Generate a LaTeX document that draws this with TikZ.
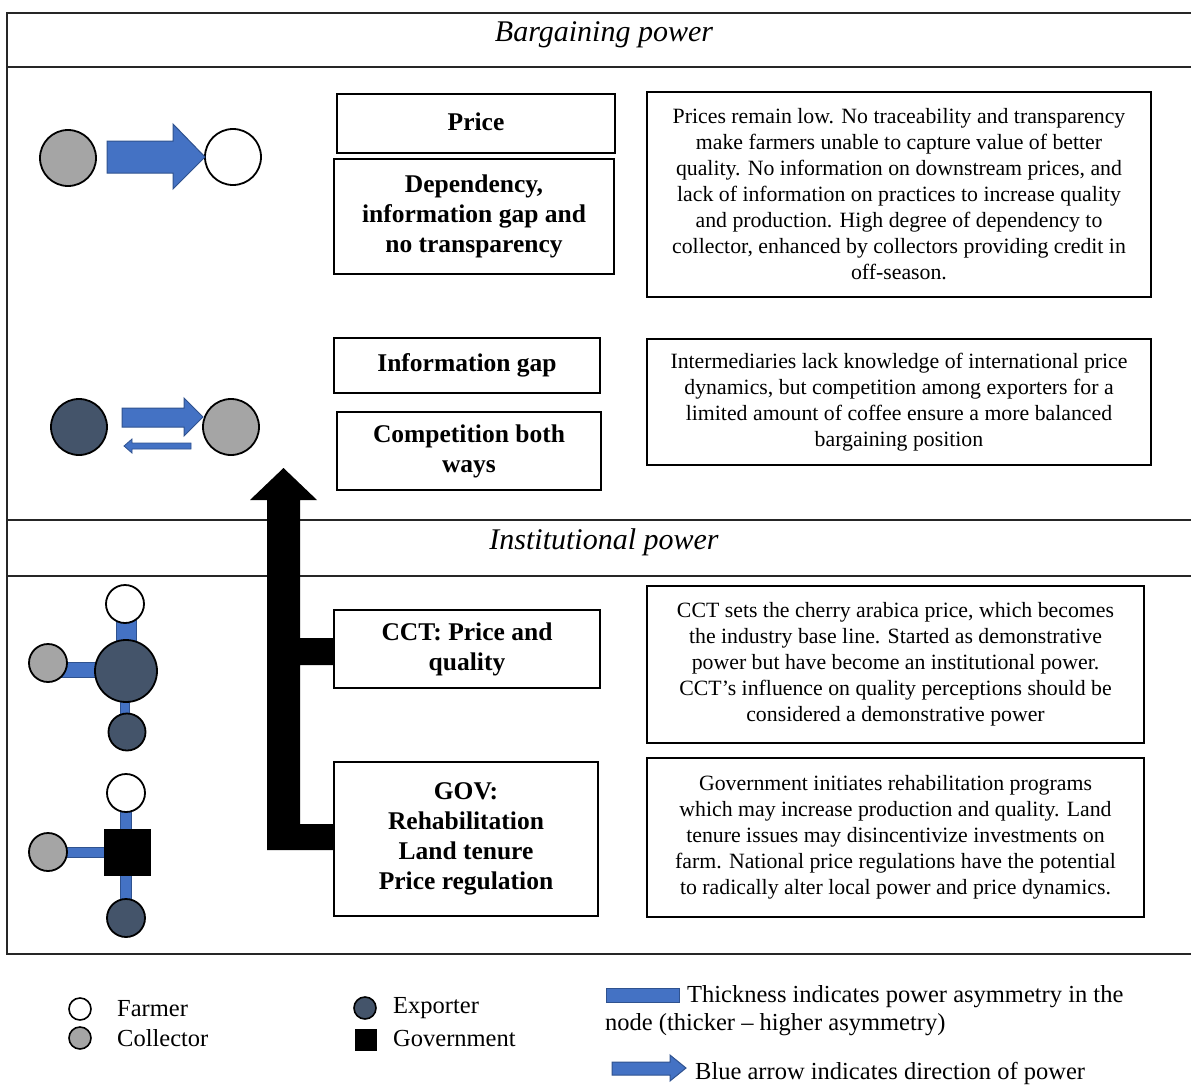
\documentclass[tikz,border=0pt]{standalone}
\usepackage{fontspec}
\setmainfont{Liberation Serif}
\usetikzlibrary{backgrounds}
\definecolor{pblue}{HTML}{4472C4}
\definecolor{pblueedge}{HTML}{2F528F}
\definecolor{colgray}{HTML}{A5A5A5}
\definecolor{expdark}{HTML}{44546A}
\tikzset{
  actor/.style={circle, draw=black, line width=1.8, inner sep=0pt},
  farmer/.style={actor, fill=white},
  collector/.style={actor, fill=colgray},
  exporter/.style={actor, fill=expdark},
  govsq/.style={rectangle, fill=black, inner sep=0pt},
  labelbox/.style={draw=black, line width=1.2, align=center, inner sep=0pt,
    font=\fontsize{25.5}{30}\selectfont\bfseries},
  descbox/.style={draw=black, line width=1.2, align=center, inner sep=0pt,
    font=\fontsize{21.8}{26}\selectfont},
  heading/.style={font=\fontsize{30}{32}\selectfont\itshape},
  link/.style={draw=pblueedge, line width=1, double=pblue, double distance=#1-2},
  legendtxt/.style={anchor=west, inner sep=0pt, font=\fontsize{24.5}{28}\selectfont},
  blockarrow/.style={fill=pblue, draw=pblueedge, line width=1},
}
\begin{document}
\begin{tikzpicture}[x=1pt,y=-1pt]
\useasboundingbox (0,0) rectangle (1191,1084);

% frame and section rules
\draw[line width=1.6, draw=black!85] (1191,13) -- (7,13) -- (7,954) -- (1191,954);
\draw[line width=1.6, draw=black!85] (7,67) -- (1191,67);
\draw[line width=1.6, draw=black!85] (7,520) -- (1191,520);
\draw[line width=1.6, draw=black!85] (7,576) -- (1191,576);

\node[heading] (hbarg) at (604,35) {Bargaining power};
\node[heading] (hinst) at (604,542) {Institutional power};

% ---- bargaining power: collector -> farmer
\node[collector, minimum size=56] (col1) at (68,158) {};
\node[farmer, minimum size=56] (far1) at (233,157) {};
\fill[blockarrow] (107,141) -- (173,141) -- (173,124) -- (205,157) -- (173,189) -- (173,173) -- (107,173) -- cycle;

% ---- bargaining power: exporter <-> collector
\node[exporter, minimum size=56] (exp2) at (79,427) {};
\node[collector, minimum size=56] (col2) at (231,427) {};
\fill[blockarrow] (122,408) -- (184,408) -- (184,398) -- (203,417) -- (184,436) -- (184,427) -- (122,427) -- cycle;
\fill[blockarrow, line width=0.8] (191,443) -- (132,443) -- (132,439) -- (124,446) -- (132,453) -- (132,449) -- (191,449) -- cycle;

% ---- institutional power: CCT cluster
\node[farmer, minimum size=38] (far3) at (125,604) {};
\node[exporter, minimum size=62] (cct) at (126,671) {};
\node[collector, minimum size=38] (col3) at (48,663) {};
\node[exporter, minimum size=37] (exp3) at (127,732) {};
\begin{scope}[on background layer]
  \draw[link=21] (far3.center -| cct.center) -- (cct.center);
  \draw[link=16] (col3.center |- 0,669.5) -- (cct.center |- 0,669.5);
  \draw[link=10] (exp3.center -| 125,0) -- (cct.center -| 125,0);
\end{scope}

% ---- institutional power: government cluster
\node[farmer, minimum size=38] (far4) at (126,793) {};
\node[govsq, minimum size=47] (gov) at (127.5,852.5) {};
\node[collector, minimum size=38] (col4) at (48,852) {};
\node[exporter, minimum size=38] (exp4) at (126,918) {};
\begin{scope}[on background layer]
  \draw[link=12] (far4.center) -- (gov.center -| far4.center);
  \draw[link=11] (col4.center |- gov.center) -- (gov.center);
  \draw[link=12] (exp4.center) -- (gov.center -| exp4.center);
\end{scope}

% ---- label boxes
\node[labelbox, minimum width=278, minimum height=59] (price) at (476,123.5) {\raisebox{3pt}{Price}};
\node[labelbox, minimum width=280, minimum height=115] (dep) at (474,216.5) {Dependency,\\information gap and\\no transparency};
\node[labelbox, minimum width=266, minimum height=55] (igap) at (467,365.5) {Information gap};
\node[labelbox, minimum width=264, minimum height=78] (comp) at (469,451) {Competition both\\ways};
\node[labelbox, minimum width=266, minimum height=78] (cctbox) at (467,649) {CCT: Price and\\quality};
\node[labelbox, minimum width=264, minimum height=154] (govbox) at (466,839) {GOV:\\Rehabilitation\\Land tenure\\Price regulation};

% ---- description boxes
\node[descbox, minimum width=504, minimum height=205] (d1) at (899,194.5) {Prices remain low. No traceability and transparency\\make farmers unable to capture value of better\\quality. No information on downstream prices, and\\lack of information on practices to increase quality\\and production. High degree of dependency to\\collector, enhanced by collectors providing credit in\\off-season.};
\node[descbox, minimum width=504, minimum height=126] (d2) at (899,402) {Intermediaries lack knowledge of international price\\dynamics, but competition among exporters for a\\limited amount of coffee ensure a more balanced\\bargaining position};
\node[descbox, minimum width=497, minimum height=157] (d3) at (895.5,664.5) {CCT sets the cherry arabica price, which becomes\\the industry base line. Started as demonstrative\\power but have become an institutional power.\\CCT’s influence on quality perceptions should be\\considered a demonstrative power};
\node[descbox, minimum width=497, minimum height=159] (d4) at (895.5,837.5) {Government initiates rehabilitation programs\\which may increase production and quality. Land\\tenure issues may disincentivize investments on\\farm. National price regulations have the potential\\to radically alter local power and price dynamics.};

% ---- institutional influence rising into bargaining power
\fill[black] (267,850) -- (267,500) -- (250,500) -- (283.5,468) -- (317,500) -- (300,500)
  -- (300,638) -- (cctbox.west |- 0,638) -- (cctbox.west |- 0,665) -- (300,665)
  -- (300,824) -- (govbox.west |- 0,824) -- (govbox.west |- 0,850) -- cycle;

% ---- legend
\node[farmer, minimum size=22, line width=1.6] (lgf) at (80,1009) {};
\node[legendtxt] (lgft) at (117,1009) {Farmer};
\node[collector, minimum size=22, line width=1.6] (lgc) at (80,1038) {};
\node[legendtxt] (lgct) at (117,1038) {Collector};
\node[exporter, minimum size=22, line width=1.6] (lge) at (365,1008) {};
\node[legendtxt] (lget) at (393,1008) {Exporter};
\node[govsq, minimum size=22] (lgg) at (366,1040) {};
\node[legendtxt] (lggt) at (393,1038) {Government};

\fill[blockarrow] (606,988) rectangle (679,1002);
\node[legendtxt] (lgthick1) at (687,997) {Thickness indicates power asymmetry in the};
\node[legendtxt] (lgthick2) at (605,1025) {node (thicker -- higher asymmetry)};
\fill[blockarrow] (612,1062) -- (670,1062) -- (670,1055) -- (686,1068) -- (670,1081) -- (670,1075) -- (612,1075) -- cycle;
\node[legendtxt] (lgdir) at (695,1073) {Blue arrow indicates direction of power};
\end{tikzpicture}
\end{document}
